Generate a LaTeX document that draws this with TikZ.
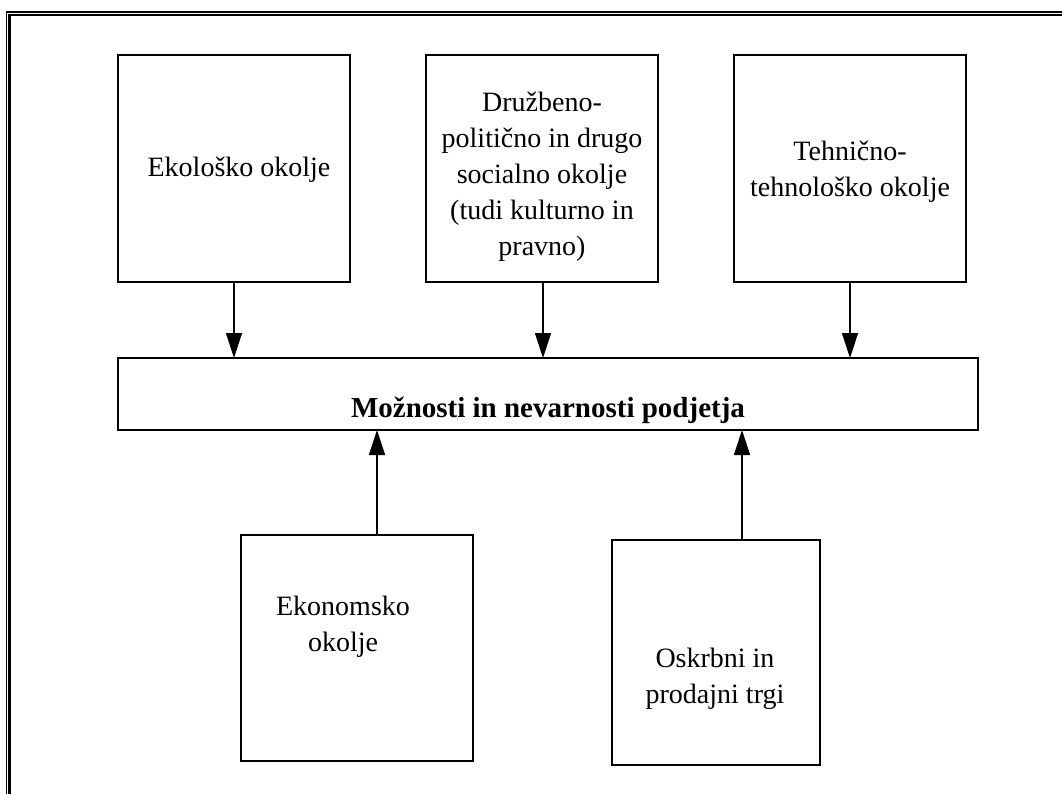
\documentclass[tikz,border=0pt]{standalone}
\usepackage{fontspec}
\setmainfont{Liberation Serif}
\usetikzlibrary{arrows.meta}
\begin{document}
\begin{tikzpicture}[x=1pt,y=-1pt,
  frame/.style={draw=black,line width=2pt},
  lbl/.style={align=center,font=\fontsize{28}{36}\selectfont,inner sep=0pt},
  feed/.style={line width=1.3pt,-{Triangle[length=25pt,width=16pt]}}]
  \useasboundingbox (0,0) rectangle (1062,794);
  % page border: double rule along the top and left edges
  \draw[line width=2pt] (6,12) -- (1062,12);
  \draw[line width=1.6pt] (8.3,14.8) -- (1062,14.8);
  \draw[line width=1.2pt] (6.5,11) -- (6.5,794);
  \draw[line width=2.4pt] (9.5,14) -- (9.5,794);
  % environment boxes
  \draw[frame] (118,55) rectangle (350,282);
  \draw[frame] (426,55) rectangle (658,282);
  \draw[frame] (734,55) rectangle (966,282);
  \draw[frame] (118,358) rectangle (978,430);
  \draw[frame] (241,535) rectangle (473,761);
  \draw[frame] (612,540) rectangle (820,765);
  \coordinate (b1) at (234,282);
  \coordinate (b2) at (543,282);
  \coordinate (b3) at (850,282);
  \coordinate (m1) at (234,358);
  \coordinate (m2) at (543,358);
  \coordinate (m3) at (850,358);
  \coordinate (b4) at (377,535);
  \coordinate (b5) at (742,540);
  \coordinate (m4) at (377,430);
  \coordinate (m5) at (742,430);
  \node[lbl] (t1) at (239,170) {Ekološko okolje};
  \node[lbl] (t2) at (542,177) {Družbeno-\\politično in drugo\\socialno okolje\\(tudi kulturno in\\pravno)};
  \node[lbl] (t3) at (850,172) {Tehnično-\\tehnološko okolje};
  \node[lbl,font=\fontsize{29}{34}\bfseries\selectfont,anchor=base] (tm) at (548,417) {Možnosti in nevarnosti podjetja};
  \node[lbl] (t4) at (343,627) {Ekonomsko\\okolje};
  \node[lbl] (t5) at (715,679) {Oskrbni in\\prodajni trgi};
  \draw[feed] (b1) -- (m1);
  \draw[feed] (b2) -- (m2);
  \draw[feed] (b3) -- (m3);
  \draw[feed] (b4) -- (m4);
  \draw[feed] (b5) -- (m5);
\end{tikzpicture}
\end{document}
